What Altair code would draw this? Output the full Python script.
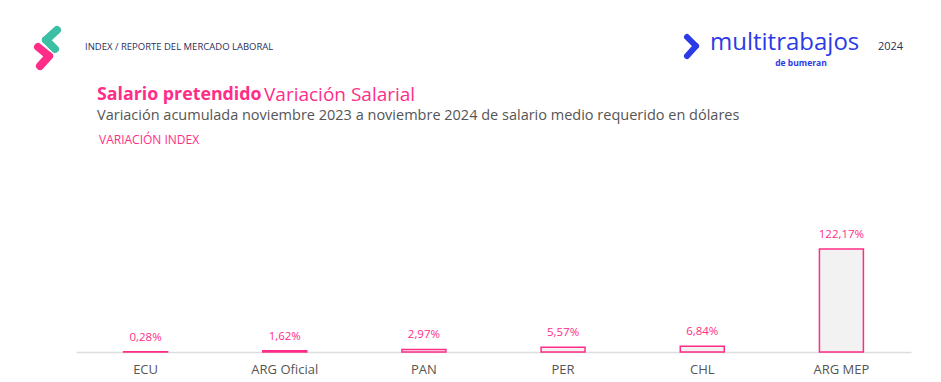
import altair as alt
import pandas as pd

# ---- data ----
countries = ["ECU", "ARG Oficial", "PAN", "PER", "CHL", "ARG MEP"]
variation = [0.28, 1.62, 2.97, 5.57, 6.84, 122.17]
labels = ["0,28%", "1,62%", "2,97%", "5,57%", "6,84%", "122,17%"]

title_bold = "Salario pretendido"
title_regular = "Variación Salarial"
subtitle = "Variación acumulada noviembre 2023 a noviembre 2024 de salario medio requerido en dólares"
section = "VARIACIÓN INDEX"
header = "INDEX / REPORTE DEL MERCADO LABORAL"
year = "2024"
brand = "multitrabajos"
brand_sub = "de bumeran"

PINK = "#ff2d87"
GRAY = "#555555"
NAVY = "#2b2f5c"
BLUE = "#2a3be6"
TEAL = "#3dbfa5"
FONT = "Open Sans"

df = pd.DataFrame({"country": countries, "value": variation, "label": labels})

W, H = 835, 192
PAD_L, PAD_T = 68, 152

x = alt.X("country:N", sort=countries,
          scale=alt.Scale(paddingInner=0.684, paddingOuter=0.342),
          axis=alt.Axis(title=None, ticks=False, labelAngle=0, labelColor=GRAY,
                        labelFontSize=13, labelFont=FONT, labelPadding=11,
                        domainColor="#dddddd", domainWidth=1.5, grid=False))
y = alt.Y("value:Q", scale=alt.Scale(domain=[0, 227.7], nice=False, zero=True), axis=None)

base = alt.Chart(df)
bars = base.mark_bar(fill="#f2f2f2", stroke=PINK, strokeWidth=1.5).encode(x=x, y=y)
vals = base.mark_text(color=PINK, fontSize=11.5, font=FONT, dy=-14, baseline="middle").encode(
    x=x, y=y, text="label:N")

one = pd.DataFrame({"k": [0]})

def txt(s, px, py, size, color, weight="normal", align="left", font=FONT):
    return alt.Chart(one).mark_text(text=s, fontSize=size, color=color, fontWeight=weight,
                                    align=align, baseline="middle", font=font).encode(
        x=alt.value(px), y=alt.value(py))

def seg(x1, y1, x2, y2, color, w):
    return alt.Chart(one).mark_rule(color=color, strokeWidth=w, strokeCap="round").encode(
        x=alt.value(x1), x2=alt.value(x2), y=alt.value(y1), y2=alt.value(y2))

def P(px, py):
    return px - 76, py - 160

decor = []
# left logo
for (a, b, c) in [((57, 30), (46, 40), TEAL), ((46, 40), (55, 49), TEAL),
                  ((38, 47), (49, 56), PINK), ((49, 56), (40, 66), PINK)]:
    x1, y1 = P(*a); x2, y2 = P(*b)
    decor.append(seg(x1, y1, x2, y2, c, 8))
# right logo chevron
for (a, b) in [((687, 37), (696, 46)), ((696, 46), (687, 56))]:
    x1, y1 = P(*a); x2, y2 = P(*b)
    decor.append(seg(x1, y1, x2, y2, BLUE, 6))

decor += [
    txt(header, *P(85, 47), 9.5, NAVY, weight=500),
    txt(year, *P(878, 47), 11, NAVY),
    txt(brand, *P(710, 43), 24, BLUE, weight=500),
    txt(brand_sub, *P(801, 63), 8.5, BLUE, weight="bold", align="center"),
    txt(title_bold, *P(97, 95), 17.8, PINK, weight="bold"),
    txt(title_regular, *P(264, 95), 19, PINK),
    txt(subtitle, *P(97, 116), 14.5, GRAY),
    txt(section, *P(99, 140), 12, PINK),
]

chart = alt.layer(bars, vals, *decor).properties(
    width=W, height=H,
    autosize=alt.AutoSizeParams(type="none"),
    padding={"left": PAD_L, "top": PAD_T, "right": 2, "bottom": 30},
    background="white",
).configure_view(stroke=None)

chart.save("out.html", embed_options={"renderer": "svg", "actions": False})
